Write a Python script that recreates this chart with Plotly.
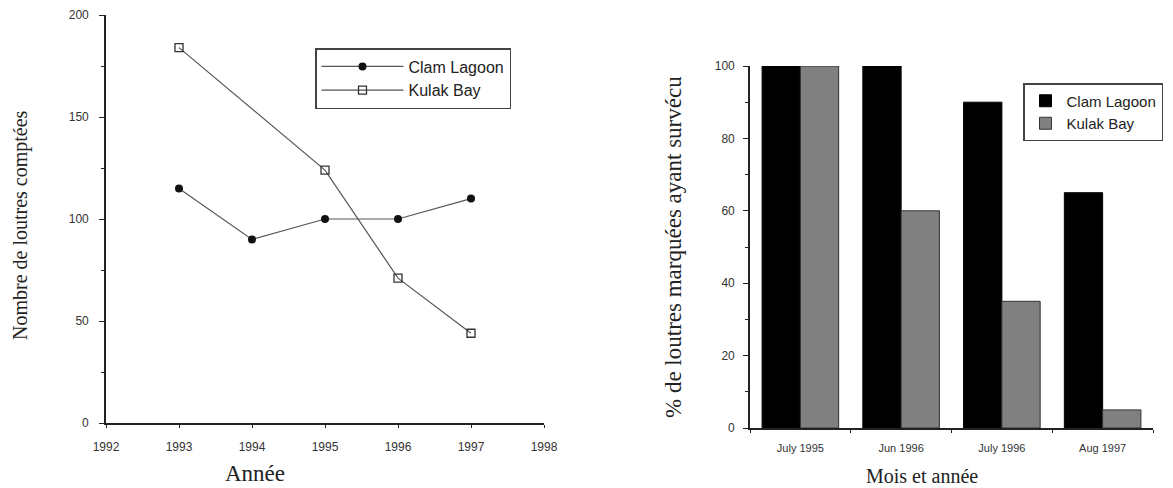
import plotly.graph_objects as go

# ---- data: left chart (counts by year)
years = [1993, 1994, 1995, 1996, 1997]
clam_counts = [115, 90, 100, 100, 110]
kulak_years = [1993, 1995, 1996, 1997]
kulak_counts = [184, 124, 71, 44]
year_ticks = [1992, 1993, 1994, 1995, 1996, 1997, 1998]

# ---- data: right chart (% survival)
periods = ["July 1995", "Jun 1996", "July 1996", "Aug 1997"]
clam_surv = [100, 100, 90, 65]
kulak_surv = [100, 60, 35, 5]

W, H = 1173, 488
def px_x(p):
    return p / W
def px_y(p):
    return 1 - p / H

SANS = "Liberation Sans"
SERIF = "Liberation Serif"

fig = go.Figure()

fig.add_trace(go.Scatter(
    x=years, y=clam_counts, name="Clam Lagoon", mode="lines+markers",
    line=dict(color="#555555", width=1.2),
    marker=dict(symbol="circle", size=8, color="#111111"),
    xaxis="x", yaxis="y", legend="legend"))
fig.add_trace(go.Scatter(
    x=kulak_years, y=kulak_counts, name="Kulak Bay", mode="lines+markers",
    line=dict(color="#555555", width=1.2),
    marker=dict(symbol="square-open", size=8, color="#333333", line=dict(width=1.3)),
    xaxis="x", yaxis="y", legend="legend"))

fig.add_trace(go.Bar(
    x=periods, y=clam_surv, name="Clam Lagoon",
    marker=dict(color="#000000", line=dict(color="#000000", width=1)),
    xaxis="x2", yaxis="y2", legend="legend2"))
fig.add_trace(go.Bar(
    x=periods, y=kulak_surv, name="Kulak Bay",
    marker=dict(color="#808080", line=dict(color="#333333", width=1)),
    xaxis="x2", yaxis="y2", legend="legend2"))

axis_common = dict(showline=True, linecolor="#222222", linewidth=1.6,
                   showgrid=False, zeroline=False, mirror=False,
                   tickcolor="#222222", ticks="outside", automargin=False)

fig.update_layout(
    width=W, height=H,
    margin=dict(l=0, r=0, t=0, b=0, autoexpand=False),
    paper_bgcolor="white", plot_bgcolor="white",
    barmode="group", bargap=0.24, bargroupgap=0,
    xaxis=dict(axis_common, domain=[px_x(106), px_x(544)], range=[1992, 1998],
               tickvals=year_ticks, ticklen=3, ticklabelstandoff=9,
               tickfont=dict(family=SANS, size=12, color="#333333"),
               anchor="y"),
    yaxis=dict(axis_common, domain=[px_y(423), px_y(15)], range=[0, 200],
               tickvals=[0, 50, 100, 150, 200], ticklen=5, ticklabelstandoff=8,
               minor=dict(dtick=25, ticklen=3, ticks="outside", tickcolor="#222222"),
               tickfont=dict(family=SANS, size=12, color="#333333"),
               anchor="x"),
    xaxis2=dict(axis_common, domain=[px_x(750), px_x(1153)], type="category",
                tickson="boundaries", ticklen=3, ticklabelstandoff=9,
                tickfont=dict(family=SANS, size=11, color="#333333"),
                anchor="y2"),
    yaxis2=dict(axis_common, domain=[px_y(428), px_y(66)], range=[0, 100],
                tickvals=[0, 20, 40, 60, 80, 100], ticklen=5, ticklabelstandoff=6,
                minor=dict(dtick=10, ticklen=3, ticks="outside", tickcolor="#222222"),
                tickfont=dict(family=SANS, size=12, color="#333333"),
                anchor="x2"),
    legend=dict(x=px_x(315), y=px_y(48), xanchor="left", yanchor="top",
                bordercolor="#444444", borderwidth=1.5, bgcolor="white",
                font=dict(family=SANS, size=16, color="#222222"),
                itemwidth=82, tracegroupgap=0),
    legend2=dict(x=px_x(1023), y=px_y(83), xanchor="left", yanchor="top",
                 bordercolor="#444444", borderwidth=1.5, bgcolor="white",
                 font=dict(family=SANS, size=15, color="#222222"),
                 itemwidth=32, tracegroupgap=0),
    annotations=[
        dict(text="Nombre de loutres comptées", xref="paper", yref="paper",
             x=px_x(20), y=px_y(225), xanchor="center", yanchor="middle",
             textangle=-90, showarrow=False,
             font=dict(family=SERIF, size=20, color="#222222")),
        dict(text="Année", xref="paper", yref="paper",
             x=px_x(255), y=px_y(473), xanchor="center", yanchor="middle",
             showarrow=False,
             font=dict(family=SERIF, size=23, color="#222222")),
        dict(text="% de loutres marquées ayant survécu", xref="paper", yref="paper",
             x=px_x(673), y=px_y(247), xanchor="center", yanchor="middle",
             textangle=-90, showarrow=False,
             font=dict(family=SERIF, size=23, color="#222222")),
        dict(text="Mois et année", xref="paper", yref="paper",
             x=px_x(922), y=px_y(476), xanchor="center", yanchor="middle",
             showarrow=False,
             font=dict(family=SERIF, size=20, color="#222222")),
    ],
)

fig.write_html("out.html")
